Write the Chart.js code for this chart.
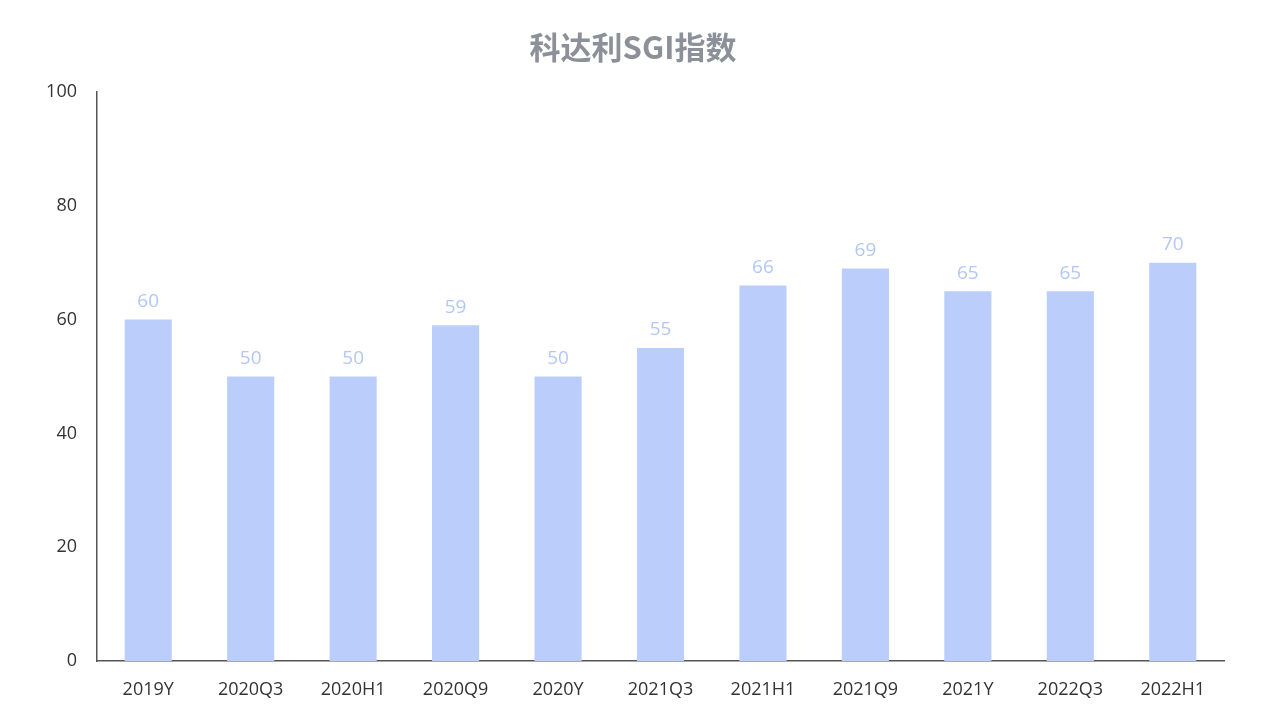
<!DOCTYPE html>
<html><head><meta charset="utf-8">
<script src="https://cdn.jsdelivr.net/npm/chart.js@4"></script>
<style>html,body{margin:0;padding:0;background:#fff;}#wrap{width:1267px;height:728px;}</style>
</head><body><div id="wrap"><canvas id="c"></canvas></div>
<script>
const titleText = "科达利SGI指数";
const categories = ["2019Y","2020Q3","2020H1","2020Q9","2020Y","2021Q3","2021H1","2021Q9","2021Y","2022Q3","2022H1"];
const values = [60,50,50,59,50,55,66,69,65,65,70];
const yTicks = [0,20,40,60,80,100];

const labelPlugin = {
  id: 'barLabels',
  afterDatasetsDraw(chart) {
    const ctx = chart.ctx;
    const meta = chart.getDatasetMeta(0);
    ctx.save();
    ctx.fillStyle = '#b3c7f6';
    ctx.font = '19px "Open Sans", "Noto Sans", sans-serif';
    ctx.textAlign = 'center';
    ctx.textBaseline = 'middle';
    meta.data.forEach((bar, i) => {
      ctx.fillText(String(values[i]), bar.x, bar.y - 18);
    });
    ctx.restore();
  }
};
const titlePlugin = {
  id: 'titleDraw',
  afterDraw(chart) {
    const ctx = chart.ctx;
    ctx.save();
    ctx.fillStyle = '#8c9099';
    ctx.font = 'bold 31px "Noto Sans CJK SC", sans-serif';
    ctx.textAlign = 'center';
    ctx.textBaseline = 'middle';
    ctx.fillText(titleText, 633, 47);
    ctx.restore();
  }
};

new Chart(document.getElementById('c'), {
  type: 'bar',
  data: { labels: categories, datasets: [{ data: values, backgroundColor: '#bbcefb', barPercentage: 0.92, categoryPercentage: 0.5 }] },
  options: {
    responsive: true, maintainAspectRatio: false, animation: false,
    layout: { padding: { top: 92, right: 43, left: 0, bottom: 0 } },
    plugins: { legend: { display: false }, title: { display: false }, tooltip: { enabled: false } },
    scales: {
      x: {
        grid: { display: false },
        border: { display: true, color: '#555', width: 1.5 },
        ticks: { color: '#333', font: { size: 18, family: '"Open Sans", "Noto Sans", sans-serif' }, padding: 10, maxRotation: 0 },
        afterFit(s) { s.height = 67; }
      },
      y: {
        min: 0, max: 100,
        grid: { display: false },
        border: { display: true, color: '#555', width: 1.5 },
        afterBuildTicks(s) { s.ticks = yTicks.map(v => ({ value: v })); },
        ticks: { color: '#333', font: { size: 18, family: '"Open Sans", "Noto Sans", sans-serif' }, padding: 12 },
        afterFit(s) { s.width = 97; }
      }
    }
  },
  plugins: [labelPlugin, titlePlugin]
});
</script></body></html>
